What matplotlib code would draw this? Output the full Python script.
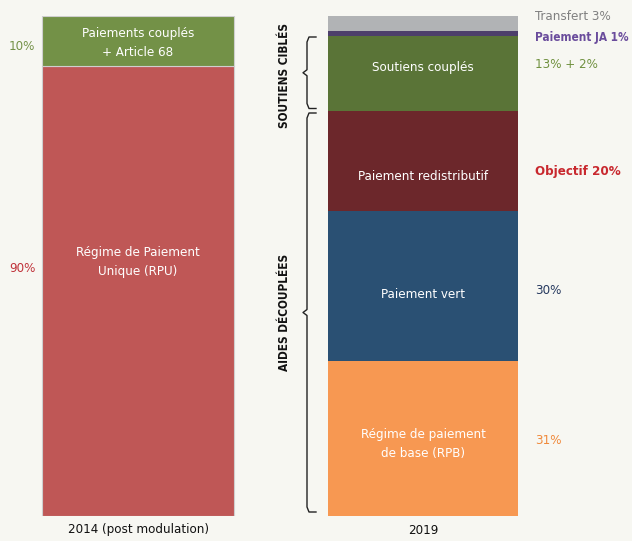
import matplotlib.pyplot as plt

plt.rcParams['font.family'] = ['DejaVu Sans']
plt.rcParams['font.stretch'] = 'condensed'

# 2014 bar (bottom -> top)
left_labels = ['Régime de Paiement\nUnique (RPU)', 'Paiements couplés\n+ Article 68']
left_values = [90, 10]
left_colors = ['#bf5756', '#739147']
left_side = ['90%', '10%']
left_side_colors = ['#c0323a', '#739147']

# 2019 bar (bottom -> top)
right_labels = ['Régime de paiement\nde base (RPB)', 'Paiement vert', 'Paiement redistributif',
                'Soutiens couplés', '', '']
right_values = [31, 30, 20, 15, 1, 3]
right_colors = ['#f79852', '#2a5073', '#6c272b', '#5a7437', '#4d3f6b', '#b1b3b5']
right_side = ['31%', '30%', 'Objectif 20%', '13% + 2%', 'Paiement JA 1%', 'Transfert 3%']
right_side_colors = ['#f08a3c', '#26395f', '#c8282e', '#70913f', '#6a4c9c', '#808080']

years = ['2014 (post modulation)', '2019']
bg = '#f7f7f2'

fig = plt.figure(figsize=(6.32, 5.41), dpi=100, facecolor=bg)
ax = fig.add_axes([0, 25 / 541, 1, 500 / 541])
ax.set_facecolor(bg)
ax.set_xlim(0, 632)
ax.set_ylim(0, 100)
ax.axis('off')

lx, lw = 138, 192
rx, rw = 423, 190
fs = 9.5

bottom = 0
left_pos = [49.6, 94]
left_text_pos = [50.8, 94.6]
for i, (lab, v, c, s, sc) in enumerate(zip(left_labels, left_values, left_colors, left_side,
                                           left_side_colors)):
    ax.bar(lx, v, lw, bottom=bottom, color=c, edgecolor='#cfcfcf', linewidth=0.8)
    ax.text(lx, left_text_pos[i], lab, ha='center', va='center', color='white',
            fontsize=fs, linespacing=1.6)
    ax.text(22, left_pos[i], s, ha='center', va='center', color=sc, fontsize=fs)
    bottom += v

bottom = 0
side_pos = [15.2, 45.2, 68.8, 90.2, 95.8, 99.8]
right_text_pos = [14.4, 44.2, 68, 89.8, 0, 0]
for i, (lab, v, c, s, sc) in enumerate(zip(right_labels, right_values, right_colors, right_side,
                                           right_side_colors)):
    ax.bar(rx, v, rw, bottom=bottom, color=c, linewidth=0)
    if lab:
        ax.text(rx, right_text_pos[i], lab, ha='center', va='center', color='white', fontsize=fs,
                linespacing=1.6)
    ax.text(535, side_pos[i], s, ha='left', va='center', color=sc,
            fontsize=8.5 if i == 4 else fs,
            fontweight='bold' if i in (2, 4) else 'normal')
    bottom += v


def brace(y0, y1, x=307):
    ym = (y0 + y1) / 2
    k = 1.0
    xs = [316, x + 2, x, x, x - 4, x, x, x + 2, 316]
    ys = [y1, y1, y1 - k, ym + k * 0.6, ym, ym - k * 0.6, y0 + k, y0, y0]
    ax.plot(xs, ys, color='#222222', lw=1.0, solid_joinstyle='round')


brace(81.5, 95.8)
brace(0.8, 80.6)
ax.text(285, 88.2, 'SOUTIENS CIBLÉS', rotation=90, ha='center', va='center', fontsize=8.5,
        fontweight='bold', color='#111111')
ax.text(285, 40.7, 'AIDES DÉCOUPLÉES', rotation=90, ha='center', va='center', fontsize=8.5,
        fontweight='bold', color='#111111')

for xpos, yr in zip([lx, rx], years):
    fig.text(xpos / 632, 11 / 541, yr, ha='center', va='center', fontsize=fs, color='#111111')

fig.savefig('out.png', dpi=100, facecolor=bg)
